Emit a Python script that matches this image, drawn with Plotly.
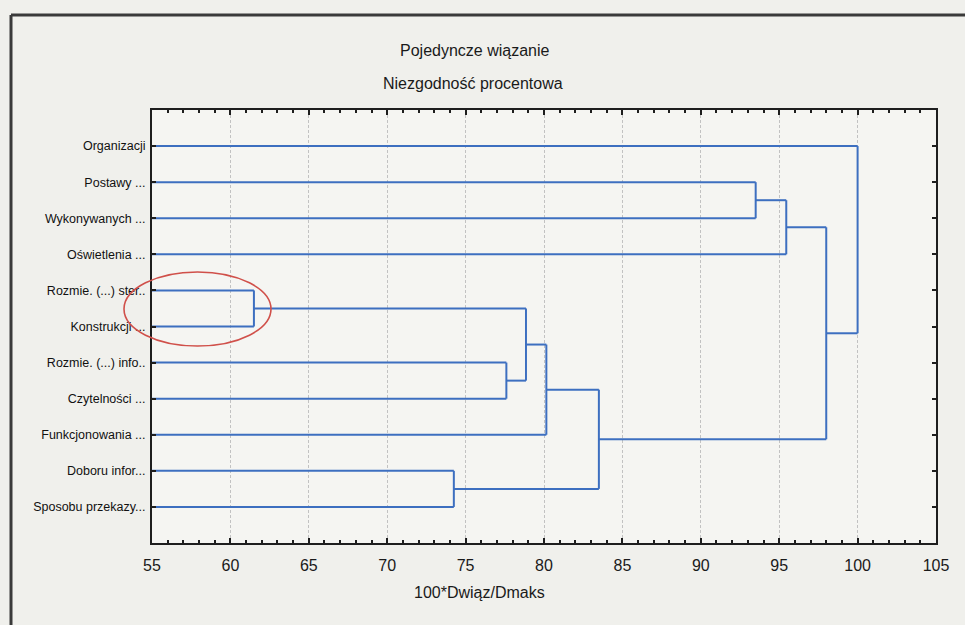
import plotly.graph_objects as go

# ---- data ----
leaf_labels = [
    "Organizacji",
    "Postawy ...",
    "Wykonywanych ...",
    "Oświetlenia ...",
    "Rozmie. (...) ster..",
    "Konstrukcji ...",
    "Rozmie. (...) info..",
    "Czytelności ...",
    "Funkcjonowania ...",
    "Doboru infor...",
    "Sposobu przekazy...",
]
# linkage steps: (child_a, child_b, height); nodes >= 11 are earlier merges
merge_a = [4, 6, 11, 13, 9, 14, 1, 17, 18, 0]
merge_b = [5, 7, 12, 8, 10, 15, 2, 3, 16, 19]
merge_h = [61.5, 77.6, 78.85, 80.15, 74.25, 83.5, 93.5, 95.45, 98.0, 100.0]

x_ticks = [55, 60, 65, 70, 75, 80, 85, 90, 95, 100, 105]

# ---- build dendrogram segments ----
n = len(leaf_labels)
node_x = {i: 0.0 for i in range(n)}
node_y = {i: float(i) for i in range(n)}
xs, ys = [], []
for k, (a, b, h) in enumerate(zip(merge_a, merge_b, merge_h)):
    for c in (a, b):
        xs += [node_x[c], h, None]
        ys += [node_y[c], node_y[c], None]
    xs += [h, h, None]
    ys += [node_y[a], node_y[b], None]
    node_x[n + k] = h
    node_y[n + k] = (node_y[a] + node_y[b]) / 2

W, H = 965, 625
L, R, T, B = 152, 29, 110, 82
pw, ph = W - L - R, H - T - B


def px(x):
    return (x - L) / pw


def py(y):
    return 1 - (y - T) / ph


FONT = "Arial, Liberation Sans, sans-serif"

fig = go.Figure()
fig.add_trace(go.Scatter(x=xs, y=ys, mode="lines",
                         line=dict(color="#3d6fc0", width=2),
                         hoverinfo="skip", showlegend=False))

fig.update_layout(
    width=W, height=H,
    margin=dict(l=L, r=R, t=T, b=B),
    paper_bgcolor="#f0f0ec",
    plot_bgcolor="#f5f5f2",
    font=dict(family=FONT, color="#1a1a1a"),
    showlegend=False,
)
fig.update_xaxes(
    range=[55, 105], tickvals=x_ticks, ticktext=[str(v) for v in x_ticks],
    showline=True, linecolor="#1e1e1e", linewidth=2, mirror="allticks",
    ticks="inside", ticklen=5, tickcolor="#1e1e1e", tickwidth=1.5,
    minor=dict(dtick=1, ticks="inside", ticklen=3, tickcolor="#1e1e1e", tickwidth=1.5, showgrid=False),
    showgrid=True, gridcolor="#c2c2c2", gridwidth=1, griddash="3px,2px",
    tickfont=dict(size=16, color="#1a1a1a"), ticklabelstandoff=7,
    zeroline=False,
)
fig.update_yaxes(
    range=[n, -1], tickvals=list(range(n)), ticktext=leaf_labels,
    showline=True, linecolor="#1e1e1e", linewidth=2, mirror="allticks",
    ticks="inside", ticklen=4, tickcolor="#1e1e1e", tickwidth=1.5,
    showgrid=False, zeroline=False,
    tickfont=dict(size=12.5, color="#111"), ticklabelstandoff=2,
)

# titles
fig.add_annotation(text="Pojedyncze wiązanie", xref="paper", yref="paper",
                   x=px(475), y=py(40), showarrow=False, font=dict(size=16, color="#1a1a1a"))
fig.add_annotation(text="Niezgodność procentowa", xref="paper", yref="paper",
                   x=px(473), y=py(73), showarrow=False, font=dict(size=16, color="#1a1a1a"))
fig.add_annotation(text="100*Dwiąz/Dmaks", xref="paper", yref="paper",
                   x=px(479), y=py(603), showarrow=False, font=dict(size=16, color="#1a1a1a"))

# outer frame (top and left edges of the page box)
fig.add_shape(type="line", xref="paper", yref="paper", x0=px(11), x1=px(970), y0=py(15), y1=py(15),
              line=dict(color="#3a3a3a", width=3))
fig.add_shape(type="line", xref="paper", yref="paper", x0=px(11), x1=px(11), y0=py(15), y1=py(630),
              line=dict(color="#3a3a3a", width=3))

# red hand-drawn ellipse
fig.add_shape(type="circle", xref="paper", yref="paper",
              x0=px(124), x1=px(271), y0=py(346), y1=py(272),
              line=dict(color="#d0504a", width=1.6))

fig.write_html("out.html")
